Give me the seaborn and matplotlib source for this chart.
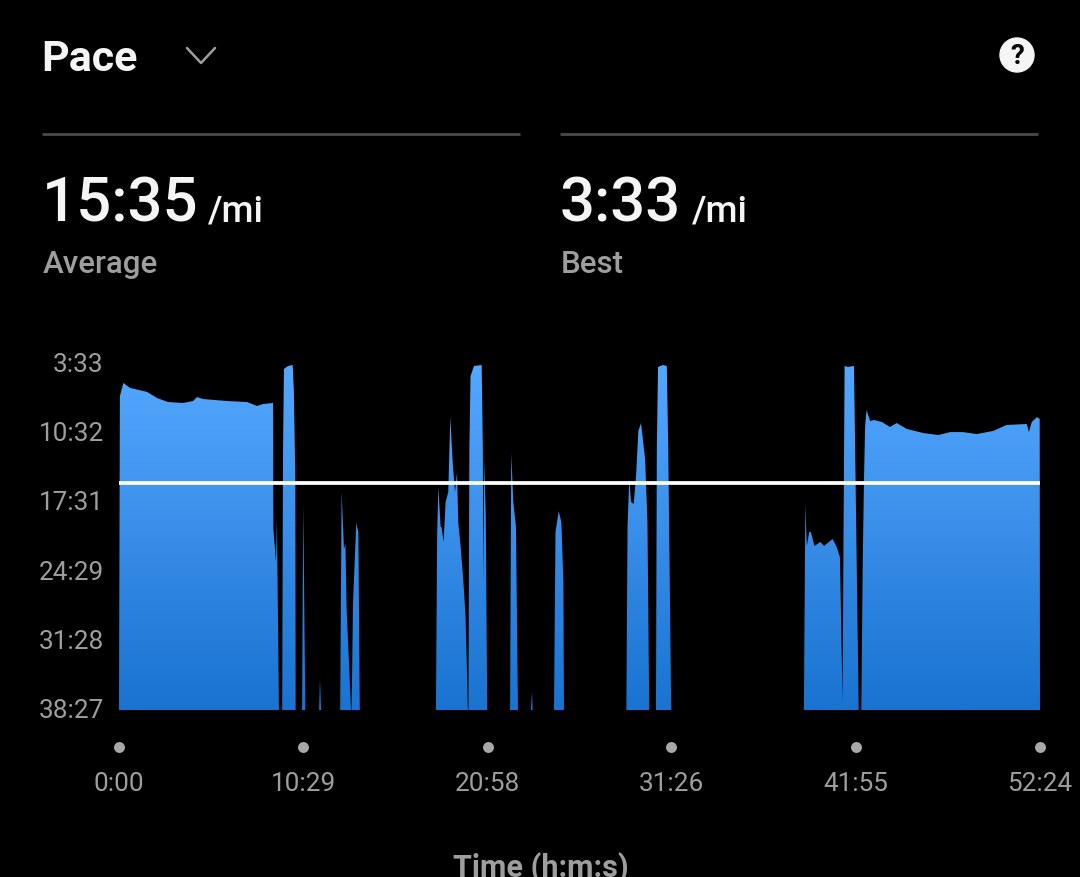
import matplotlib
matplotlib.use('Agg')
import matplotlib.pyplot as plt
from matplotlib.colors import LinearSegmentedColormap
from matplotlib.lines import Line2D
from matplotlib.patches import Circle
import numpy as np
import seaborn as sns

# pace trace, both in seconds (pace is s per mile, 2307 = slowest / floor of chart)
time_s = [0, 3, 15, 38, 96, 130, 167, 218, 253, 266, 287, 369, 437, 471, 492, 526, 527, 536, 539, 546,
          557, 560, 563, 577, 593, 597, 602, 603,
          625, 629, 636,
          683, 686, 690,
          755, 760, 768, 773, 777, 786, 792, 794, 799, 810, 817, 822,
          1082, 1086, 1090, 1098, 1101, 1108, 1115, 1124, 1131, 1139, 1147, 1154, 1158, 1166, 1175, 1183, 1191,
          1193, 1196, 1200, 1212, 1238, 1242, 1244, 1247, 1252, 1257,
          1335, 1339, 1346, 1355, 1362,
          1406, 1410, 1412,
          1485, 1490, 1501, 1510, 1517, 1519,
          1732, 1736, 1742, 1748, 1757, 1765, 1773, 1782, 1796, 1804, 1810,
          1833, 1836, 1840, 1857, 1870, 1875, 1885,
          2338, 2343, 2348, 2356, 2362, 2374, 2394, 2407, 2436, 2450, 2461, 2470,
          2473, 2477, 2488, 2509, 2513, 2525,
          2534, 2539, 2543, 2547, 2552, 2564, 2578, 2604, 2632, 2655, 2689, 2746, 2797, 2837, 2881, 2928,
          2984, 3030, 3099, 3106, 3116, 3134, 3143, 3144]
pace_s = [2307, 407, 328, 358, 382, 419, 443, 449, 437, 413, 425, 437, 443, 467, 455, 449, 1212, 1411, 1151, 2307,
          2307, 727, 243, 225, 219, 382, 927, 2307,
          2307, 1060, 2307,
          2307, 2119, 2307,
          2307, 988, 1333, 1302, 1696, 2059, 2307, 2307, 1653, 1175, 1230, 2307,
          2307, 1254, 957, 1199, 1199, 1290, 1048, 988, 534, 806, 988, 867, 1169, 1314, 1514, 1738, 2307,
          2307, 727, 286, 225, 219, 727, 1532, 788, 1133, 2307,
          2307, 752, 1048, 1193, 2307,
          2307, 2192, 2307,
          2307, 1230, 1103, 1169, 1532, 2307,
          2307, 1193, 909, 1048, 1060, 891, 618, 570, 788, 1169, 2307,
          2307, 727, 231, 219, 225, 727, 2307,
          2307, 1060, 1314, 1230, 1230, 1314, 1290, 1314, 1272, 1320, 1381, 2259,
          1333, 225, 231, 225, 727, 2307,
          2307, 1393, 927, 588, 491, 558, 552, 564, 594, 570, 606, 631, 643, 625, 625, 637,
          618, 582, 576, 625, 564, 534, 546, 2307]

average_pace = 935
pace_ticks = [213, 632, 1051, 1469, 1888, 2307]
pace_labels = ['3:33', '10:32', '17:31', '24:29', '31:28', '38:27']
time_ticks = [0, 629, 1258, 1886, 2515, 3144]
time_labels = ['0:00', '10:29', '20:58', '31:26', '41:55', '52:24']

W, H = 1080, 878
FONT = 'Roboto'
GREY = '#9e9e9e'


def fx(px):
    return px / W


def fy(py):
    return 1 - py / H


sns.set_style('dark')
plt.rcParams['font.family'] = [FONT, 'DejaVu Sans']

fig = plt.figure(figsize=(W / 100, H / 100), dpi=100, facecolor='black')
ax = fig.add_axes([fx(119), fy(711), (1040 - 119) / W, (711 - 365) / H], facecolor='black')

# gradient fill, clipped to the pace area
poly = ax.fill_between(time_s, pace_s, max(pace_ticks), color='none', linewidth=0)
cmap = LinearSegmentedColormap.from_list('pace', ['#55A8FF', '#1A73D1'])
grad = np.linspace(0, 1, 256).reshape(-1, 1)
im = ax.imshow(grad, cmap=cmap, aspect='auto', zorder=2,
               extent=[time_ticks[0], time_ticks[-1], pace_ticks[-1], pace_ticks[0]])
im.set_clip_path(poly.get_paths()[0], transform=ax.transData)

# average line
sns.lineplot(x=[time_ticks[0], time_ticks[-1]], y=[average_pace, average_pace], color='white',
             linewidth=2.7, ax=ax, zorder=3, legend=False)

ax.set_xlim(time_ticks[0], time_ticks[-1])
ax.set_ylim(pace_ticks[-1], pace_ticks[0])
ax.grid(False)
sns.despine(ax=ax, left=True, bottom=True)

ax.set_yticks(pace_ticks)
ax.set_yticklabels(pace_labels, fontsize=18.8, color=GREY)
ax.set_xticks(time_ticks)
ax.set_xticklabels(time_labels, fontsize=18.8, color=GREY)
ax.tick_params(axis='y', length=0, pad=11)
ax.tick_params(axis='x', length=0, pad=44)
for lab in ax.get_yticklabels():
    lab.set_verticalalignment('center')

# dots over the time labels
ax.scatter(time_ticks, [-0.107] * len(time_ticks), s=62, color='#a8a8a8', linewidth=0,
           transform=ax.get_xaxis_transform(), clip_on=False, zorder=4)

# header
fig.text(fx(41), fy(71), 'Pace', fontsize=31, fontweight='bold', color='#f5f5f5')
fig.add_artist(Line2D([fx(187), fx(201), fx(215)], [fy(49), fy(64), fy(49)], color=GREY, linewidth=1.8))
fig.add_artist(Circle((1017, H - 56), 17, color='#f5f5f5', transform=None))
fig.text(fx(1017), fy(56), '?', fontsize=20, fontweight='bold', color='black', ha='center', va='center')

fig.add_artist(Line2D([fx(42), fx(520)], [fy(135), fy(135)], color='#4a4a4a', linewidth=2, solid_capstyle='butt'))
fig.add_artist(Line2D([fx(560), fx(1038)], [fy(135), fy(135)], color='#4a4a4a', linewidth=2, solid_capstyle='butt'))

fig.text(fx(42), fy(222), '15:35', fontsize=44.5, fontweight=500, color='#f5f5f5')
fig.text(fx(208), fy(222), '/mi', fontsize=26.5, fontweight=500, color='#f5f5f5')
fig.text(fx(43), fy(273), 'Average', fontsize=22.5, fontweight=500, color=GREY)
fig.text(fx(560), fy(222), '3:33', fontsize=44.5, fontweight=500, color='#f5f5f5')
fig.text(fx(692), fy(222), '/mi', fontsize=26.5, fontweight=500, color='#f5f5f5')
fig.text(fx(561), fy(273), 'Best', fontsize=22.5, fontweight=500, color=GREY)

fig.text(fx(541), fy(877), 'Time (h:m:s)', fontsize=22, fontweight='bold', color=GREY, ha='center')

fig.savefig('out.png', dpi=100, facecolor='black')
